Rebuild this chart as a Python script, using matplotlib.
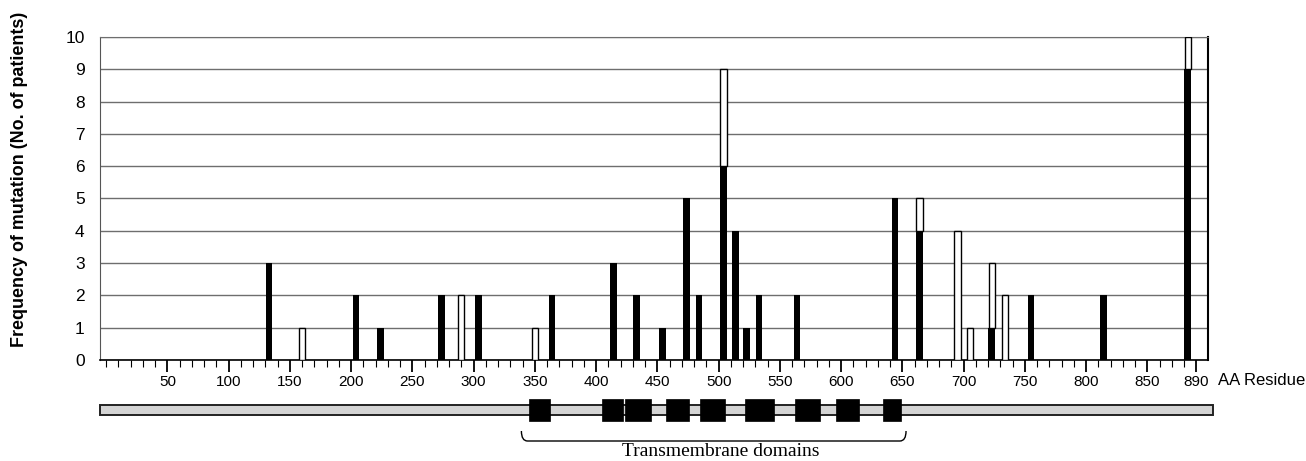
import matplotlib
matplotlib.use('Agg')
import matplotlib.pyplot as plt
from matplotlib.patches import Rectangle, PathPatch
from matplotlib.path import Path
from matplotlib.ticker import FixedLocator

# posiciones de las mutaciones (residuo) y número de pacientes
posiciones = [133, 160, 204, 224, 274, 290, 304, 350, 364, 414, 433, 454, 474, 484,
              504, 514, 523, 533, 564, 644, 664, 695, 705, 723, 734, 755, 814, 883]
negras = [3, 0, 2, 1, 2, 0, 2, 0, 2, 3, 2, 1, 5, 2,
          6, 4, 1, 2, 2, 5, 4, 0, 0, 1, 0, 2, 2, 9]
blancas = [0, 1, 0, 0, 0, 2, 0, 1, 0, 0, 0, 0, 0, 0,
           3, 0, 0, 0, 0, 0, 1, 4, 1, 2, 2, 0, 0, 1]

ticks_mayores = [50, 100, 150, 200, 250, 300, 350, 400, 450, 500, 550, 600, 650,
                 700, 750, 800, 850, 890]
ticks_y = [0, 1, 2, 3, 4, 5, 6, 7, 8, 9, 10]

# dominios transmembrana (inicio, fin) en residuos
dominios_tm = [(345.5, 362.4), (404.7, 422.3), (423.7, 444.7), (457, 475.5),
               (485, 505.5), (521.8, 544.9), (562.6, 583), (596, 614.3), (634.2, 648.9)]
proteina = (-5.2, 903.3)
llave = (339, 653)

plt.rcParams['font.family'] = ['Liberation Sans', 'DejaVu Sans']

fig = plt.figure(figsize=(13.06, 4.61), dpi=100)
ax = fig.add_axes([100 / 1306, 101 / 461, 1108 / 1306, 323 / 461])

ax.bar(posiciones, negras, width=5.5, color='black', zorder=3)
pos_b = [p for p, w in zip(posiciones, blancas) if w > 0]
alt_b = [w for w in blancas if w > 0]
base_b = [n for n, w in zip(negras, blancas) if w > 0]
ax.bar(pos_b, alt_b, bottom=base_b, width=5.0, facecolor='white',
       edgecolor='black', linewidth=1.0, zorder=3)

ax.set_xlim(-5, 899.5)
ax.set_ylim(0, 10)
ax.set_yticks(ticks_y)
ax.yaxis.grid(True, color='#6e6e6e', linewidth=1.0)
ax.set_axisbelow(True)

ax.xaxis.set_major_locator(FixedLocator(ticks_mayores))
ax.xaxis.set_minor_locator(FixedLocator([m for m in range(0, 900, 10) if m not in ticks_mayores]))
ax.set_xticklabels([str(t) for t in ticks_mayores])
ax.tick_params(axis='x', which='major', length=8.5, width=1.3, pad=2, labelsize=11)
ax.tick_params(axis='x', which='minor', length=5, width=0.8)
ax.tick_params(axis='y', length=0, pad=11, labelsize=12.5)

ax.spines['top'].set_color('#6e6e6e')
ax.spines['left'].set_color('#555555')
ax.spines['right'].set_linewidth(1.5)
ax.spines['bottom'].set_linewidth(1.2)

ax.text(1.009, -0.065, 'AA Residue', transform=ax.transAxes, fontsize=12,
        ha='left', va='center')
fig.text(0.0153, 0.61, 'Frequency of mutation (No. of patients)', rotation=90,
         fontsize=12.9, fontweight='bold', ha='center', va='center')

# proteína con dominios transmembrana
ax2 = fig.add_axes([100 / 1306, 0, 1108 / 1306, 71 / 461])
ax2.set_xlim(-5, 899.5)
ax2.set_ylim(0, 71)
ax2.axis('off')
ax2.add_patch(Rectangle((proteina[0], 46), proteina[1] - proteina[0], 10,
                        facecolor='#d4d4d4', edgecolor='#222222', linewidth=1.4,
                        clip_on=False))
for ini, fin in dominios_tm:
    ax2.add_patch(Rectangle((ini, 40.3), fin - ini, 21.4, facecolor='black',
                            edgecolor='black', linewidth=0.5, clip_on=False))

verts = [(llave[0], 30), (llave[0], 20), (llave[0] + 5, 20),
         (llave[1] - 5, 20), (llave[1], 20), (llave[1], 30)]
codes = [Path.MOVETO, Path.CURVE3, Path.CURVE3, Path.LINETO, Path.CURVE3, Path.CURVE3]
ax2.add_patch(PathPatch(Path(verts, codes), facecolor='none', edgecolor='black',
                        linewidth=1.0, clip_on=False))
ax2.text(502, 10, 'Transmembrane domains', ha='center',
         va='center', fontsize=14, family=['Liberation Serif', 'DejaVu Serif'])

fig.savefig('out.png', dpi=100)
